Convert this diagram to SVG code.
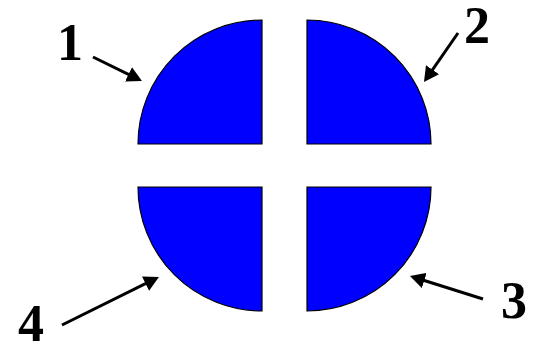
<svg xmlns="http://www.w3.org/2000/svg" width="540" height="343" viewBox="0 0 540 343">
<style>
.q{fill:#0000ff;stroke:#000;stroke-width:1.2}
.lbl{font-family:"Liberation Serif","Times New Roman",serif;font-weight:bold;font-size:52px;fill:#000;text-anchor:middle}
.ar{stroke:#000;stroke-width:3;fill:none;marker-end:url(#ah)}
</style>
<defs>
<marker id="ah" markerUnits="userSpaceOnUse" markerWidth="16" markerHeight="16" refX="5" refY="8" orient="auto">
<path d="M0,0 L15,8 L0,16 Z" fill="#000"/>
</marker>
</defs>
<rect width="540" height="343" fill="#fff"/>
<g id="q1"><path class="q" d="M262,20 V144 H138 A124,124 0 0 1 262,20 Z"/></g>
<g id="q2"><path class="q" d="M307,20 A124,124 0 0 1 431,144 H307 Z"/></g>
<g id="q3"><path class="q" d="M307,187 H431 A124,124 0 0 1 307,311 Z"/></g>
<g id="q4"><path class="q" d="M138,187 H262 V311 A124,124 0 0 1 138,187 Z"/></g>
<g id="label1"><text class="lbl" x="70" y="60">1</text></g>
<g id="label2"><text class="lbl" x="477" y="43">2</text></g>
<g id="label3"><text class="lbl" x="514" y="318">3</text></g>
<g id="label4"><text class="lbl" x="31" y="341">4</text></g>
<g id="connectors">
<line class="ar" x1="93" y1="57" x2="133" y2="76.6"/>
<line class="ar" x1="458" y1="33" x2="429.7" y2="73.8"/>
<line class="ar" x1="483" y1="299" x2="419.5" y2="279"/>
<line class="ar" x1="62" y1="325" x2="150" y2="281.4"/>
</g>
</svg>
